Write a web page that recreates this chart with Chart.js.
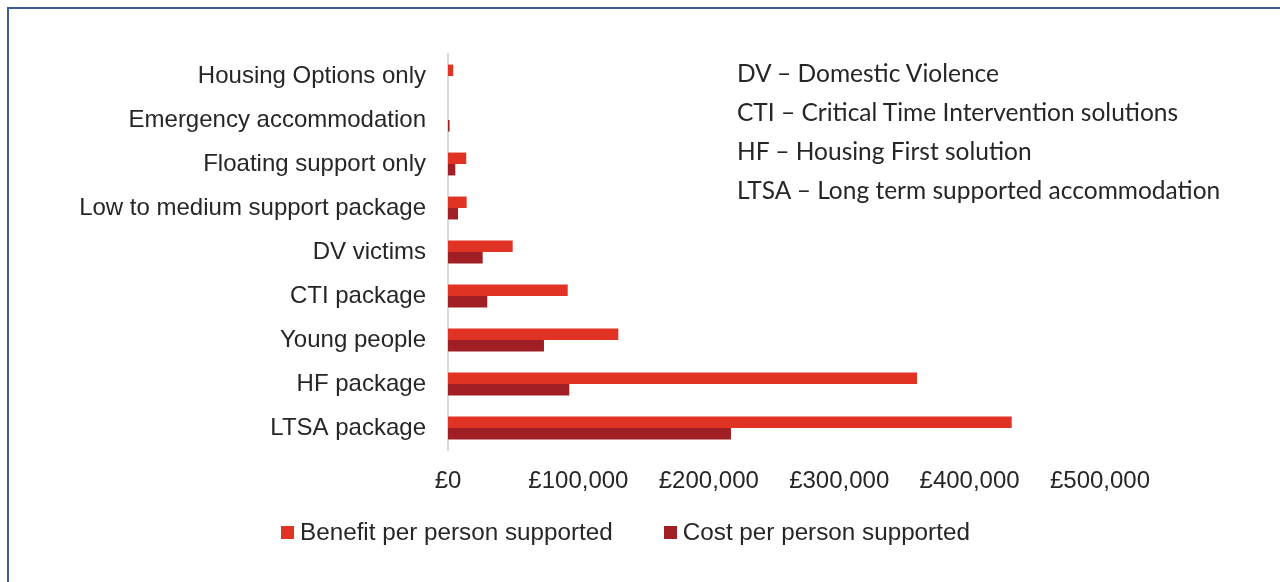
<!DOCTYPE html>
<html>
<head>
<meta charset="utf-8">
<script src="https://cdn.jsdelivr.net/npm/chart.js@4.4.1/dist/chart.umd.min.js"></script>
<style>
  html, body { margin: 0; padding: 0; background: #fff; }
  body { width: 1280px; height: 582px; position: relative; overflow: hidden; }
  .frame {
    position: absolute; left: 7px; top: 7px; width: 1400px; height: 700px;
    border-left: 2px solid #3d5c98; border-top: 2px solid #3d5c98;
  }
  .wrap { position: absolute; left: 0; top: 0; width: 1280px; height: 582px; }
  .notes {
    position: absolute; left: 737px; top: 53px;
    font-family: Lato, "Open Sans", sans-serif; font-size: 24.5px; color: #262626;
    line-height: 39px;
  }
  .legend {
    position: absolute; left: 281px; top: 518px;
    display: flex;
    font-family: "Liberation Sans", Arial, sans-serif; font-size: 24.25px; color: #262626;
  }
  .legend span.item { display: flex; align-items: center; margin-right: 51px; }
  .legend span.box { display: inline-block; width: 13px; height: 13px; margin-right: 6px; }
</style>
</head>
<body>
<div class="frame"></div>
<div class="wrap"><canvas id="chart"></canvas></div>
<div class="notes" id="notes"></div>
<div class="legend" id="legend"></div>
<script>
// ============================================================
// Data
// ============================================================

const categories = [
  'Housing Options only',
  'Emergency accommodation',
  'Floating support only',
  'Low to medium support package',
  'DV victims',
  'CTI package',
  'Young people',
  'HF package',
  'LTSA package'
]
const benefitPerPerson = [4000, 0, 14000, 14300, 49600, 91800, 130600, 359700, 432300]
const costPerPerson = [0, 1200, 5600, 7700, 26600, 30100, 73600, 93000, 217000]
const xTicks = [0, 100000, 200000, 300000, 400000, 500000]
const notes = [
  'DV – Domestic Violence',
  'CTI – Critical Time Intervention solutions',
  'HF – Housing First solution',
  'LTSA – Long term supported accommodation'
]

const TEXT = '#262626'
const FONT = { family: "'Liberation Sans', Arial, sans-serif", size: 24 }

function formatGBP(v) {
  return '£' + String(Math.round(v)).replace(/\B(?=(\d{3})+(?!\d))/g, ',')
}

const chart = new Chart(document.getElementById('chart'), {
  type: 'bar',
  data: {
    labels: categories,
    datasets: [
      {
        label: 'Benefit per person supported',
        data: benefitPerPerson,
        backgroundColor: '#e03323',
        categoryPercentage: 0.52,
        barPercentage: 1
      },
      {
        label: 'Cost per person supported',
        data: costPerPerson,
        backgroundColor: '#a01f24',
        categoryPercentage: 0.52,
        barPercentage: 1
      }
    ]
  },
  options: {
    indexAxis: 'y',
    responsive: true,
    maintainAspectRatio: false,
    animation: false,
    layout: { padding: { left: 0, right: 180, top: 54, bottom: 88 } },
    plugins: {
      legend: { display: false },
      tooltip: { enabled: false }
    },
    scales: {
      x: {
        min: xTicks[0],
        max: xTicks[xTicks.length - 1],
        afterBuildTicks: scale => { scale.ticks = xTicks.map(v => ({ value: v })) },
        afterFit: scale => { scale.height = 44 },
        ticks: {
          color: TEXT,
          font: FONT,
          padding: 9,
          maxRotation: 0,
          callback: v => formatGBP(v)
        },
        grid: { display: false },
        border: { display: false }
      },
      y: {
        afterFit: scale => { scale.width = 448 },
        ticks: { color: TEXT, font: FONT, padding: 14 },
        grid: { display: false },
        border: { display: true, color: '#d9d9d9', width: 2 }
      }
    }
  }
})

// HTML legend built from the chart's datasets
const legendEl = document.getElementById('legend')
chart.data.datasets.forEach(ds => {
  const item = document.createElement('span')
  item.className = 'item'
  const box = document.createElement('span')
  box.className = 'box'
  box.style.background = ds.backgroundColor
  item.appendChild(box)
  item.appendChild(document.createTextNode(ds.label))
  legendEl.appendChild(item)
})

const notesEl = document.getElementById('notes')
notes.forEach(t => {
  const d = document.createElement('div')
  d.textContent = t
  notesEl.appendChild(d)
})
</script>
</body>
</html>
